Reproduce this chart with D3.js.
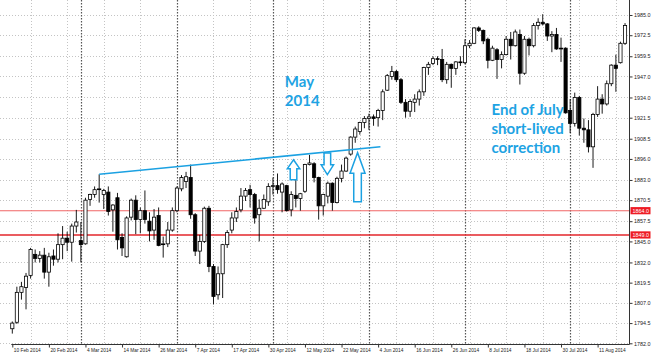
<!DOCTYPE html>
<html>
<head>
<meta charset="utf-8">
<script src="https://cdn.jsdelivr.net/npm/d3@7"></script>
<style>
  body { margin: 0; background: #fff; }
  .axis text { font-family: "Liberation Sans", Arial, sans-serif; fill: #222; }
  .note { font-family: Lato, "Open Sans", sans-serif; font-weight: 700; font-size: 15px; fill: #1ea3e3; }
</style>
</head>
<body>
<div id="chart"></div>
<script>
// daily bars, [open, high, low, close], one list per month (10 Feb .. 19 Aug 2014)
const febBars = [
  [1791,1795.5,1788,1794.5],[1795,1817,1794,1813.5],[1813.5,1820,1809,1817],[1816.5,1825.5,1803,1823.5],
  [1824,1841,1822,1840],[1837,1840,1832,1834.5],[1834.5,1839,1832,1836.5],[1836.5,1841,1822,1826],
  [1826,1838,1817,1835.5],[1836,1840,1830,1834],[1834,1850,1832,1843],[1843,1854.5,1834,1847],
  [1847,1851,1839,1844.5],[1844.5,1856,1832.5,1854.5],[1854.5,1864.5,1850.5,1857]
];
const marBars = [
  [1845.5,1857,1832,1843],[1843.5,1872,1843,1870.5],[1871,1874.5,1867,1874],[1874,1879,1872,1877],
  [1877,1886.5,1869,1877.5],[1874,1877.5,1865,1876.5],[1875.5,1879,1861,1863.5],[1864.5,1868,1851,1867.5],
  [1872,1875,1840,1846],[1847.5,1850,1836,1841],[1835.5,1860.5,1835,1859.5],[1860,1871.5,1858,1870.5],
  [1870.5,1873.5,1849.5,1858.5],[1858.5,1866,1850,1864],[1864,1876.5,1856,1858.5],[1857.5,1863,1845,1851.5],
  [1852,1865,1846,1860],[1861,1866,1842,1842.5],[1843,1848,1835,1843.5],[1843.5,1857,1841.5,1852],
  [1852,1866,1851,1864]
];
const aprBars = [
  [1864,1879,1863,1878],[1877.5,1886,1876,1884.5],[1882,1888,1878,1885],[1884.5,1892.5,1859,1861.5],
  [1861.5,1862.5,1836,1839],[1839,1849,1831,1845],[1845,1866.5,1844,1865.5],[1865.5,1867,1826,1829.5],
  [1829.5,1831,1806,1811],[1812,1829.5,1809,1825],[1825,1843.5,1810,1843],[1843,1852,1841,1850.5],
  [1852,1863,1850,1859.5],[1859.5,1866,1857,1863.5],[1864.5,1878,1863,1873],[1873,1878,1870,1876.5],
  [1877,1880,1866,1874],[1874,1875,1856,1859.5],[1861.5,1871,1845,1865.5],[1865.5,1874,1865,1871],
  [1869.5,1881,1867,1879]
];
const mayBars = [
  [1879,1884.5,1874,1879.5],[1879.5,1887,1874.5,1877],[1875.5,1881.5,1863,1880.5],[1879.5,1880,1863.5,1864],
  [1864.5,1876,1860.5,1874],[1873.5,1885,1866,1871.5],[1871.5,1875,1864,1874.5],[1876,1893,1875,1892.5],
  [1892.5,1898.5,1892,1893.5],[1893,1894,1881.5,1884.5],[1884.5,1885,1858.5,1867],[1867,1874.5,1861,1874],
  [1873,1882,1868.5,1881],[1881,1881.5,1864,1869],[1869,1885,1868.5,1884],[1884,1892.5,1881.5,1888.5],
  [1888.5,1897.5,1888,1896.5],[1899,1910,1898,1909.5],[1909.5,1916,1906,1914.5],[1913,1919,1911,1918.5],
  [1918.5,1922.5,1915,1921]
];
const junBars = [
  [1921,1924,1914,1922],[1922,1923.5,1916.5,1921],[1921.5,1927,1916,1926],[1926,1939,1920,1937.5],
  [1938.5,1948.5,1938,1947.5],[1947,1953.5,1945,1950],[1950,1951,1943.5,1945],[1945,1946,1930,1931],
  [1931,1933,1921.5,1925.5],[1925.5,1933,1922,1931.5],[1931,1936,1925,1933],[1933,1939,1929,1937.5],
  [1937.5,1953,1935,1952.5],[1952.5,1956,1948,1954.5],[1955,1959.5,1954,1958],[1958,1959.5,1954,1957.5],
  [1957.5,1964,1943.5,1945],[1945,1956,1942.5,1954.5],[1954.5,1955,1940,1952],[1952,1956.5,1948,1956],
  [1956,1959.5,1953.5,1955.5]
];
const julBars = [
  [1955.5,1970,1954.5,1966],[1966,1969.5,1964.5,1967.5],[1967.5,1977.5,1967,1977],[1977,1978,1974.5,1975.5],
  [1975.5,1976,1967,1969],[1970,1971,1952,1957],[1957,1966,1956.5,1964.5],[1963.5,1964.5,1945.5,1957.5],
  [1957.5,1962.5,1952,1960.5],[1960.5,1972,1960,1970],[1970,1974.5,1957.5,1966],[1966,1976,1965.5,1974.5],
  [1973,1976,1942,1949],[1949,1972,1948,1970],[1970,1971,1960,1966],[1966,1980,1965,1978.5],
  [1978.5,1983,1976,1980.5],[1980.5,1985.5,1978.5,1979.5],[1979.5,1980,1969,1972],[1972,1975,1962,1973],
  [1973,1977,1963.5,1964],[1964.5,1971,1956,1964],[1964.5,1965,1924,1924.5]
];
const augBars = [
  [1926,1933,1912,1918],[1918,1937,1916,1934],[1934,1935,1910.5,1915],[1915,1921,1906,1914],
  [1914,1920,1900,1903.5],[1903.5,1924.5,1890.5,1923.5],[1923.5,1941,1922,1933],[1933,1936,1924,1930],
  [1930,1944.5,1929,1942.5],[1942.5,1954.5,1941,1954],[1954,1960.5,1937.5,1952],[1955.5,1968.5,1955,1967.5],
  [1967.5,1980,1966.5,1978.5]
];

const xTickLabels = ["10 Feb 2014","20 Feb 2014","4 Mar 2014","14 Mar 2014","26 Mar 2014","7 Apr 2014",
  "17 Apr 2014","30 Apr 2014","12 May 2014","22 May 2014","4 Jun 2014","16 Jun 2014","26 Jun 2014",
  "8 Jul 2014","18 Jul 2014","30 Jul 2014","11 Aug 2014"];
const yTicks = [1985.0,1972.5,1959.5,1947.0,1934.0,1921.5,1908.5,1896.0,1883.0,1870.5,1857.5,1845.0,
  1832.0,1819.5,1807.0,1794.5,1782.0];
const monthStarts = [15, 36, 57, 78, 99, 122];   // first bar of Mar..Aug
const levels = [1864.0, 1849.0];
const trend = [[19, 1886.5], [80.5, 1903.5]];
// arrows: bar index, tip price, tail price
const arrows = [[61.5, 1895.5, 1883.2], [68.9, 1886.3, 1899.7], [75.5, 1899.9, 1869.6]];
const notes = [
  { idx: 59.6, price: 1940.4, lines: ["May", "2014"] },
  { idx: 104.8, price: 1923.3, lines: ["End of July", "short-lived", "correction"] }
];

const bars = [].concat(febBars, marBars, aprBars, mayBars, junBars, julBars, augBars);

const width = 660, height = 362;
const plotRight = 629.5, plotBottom = 344.5;

const svg = d3.select("#chart").append("svg")
  .attr("width", width).attr("height", height);

const x = d3.scaleLinear().domain([0, 128]).range([12.3, 597.6]);
const y = d3.scaleLinear().domain([1782, 1985]).range([343.3, 15]);

// grid
const grid = svg.append("g");
grid.selectAll(".hg").data(yTicks).join("line")
  .attr("x1", 0).attr("x2", plotRight)
  .attr("y1", d => Math.round(y(d)) + 0.5).attr("y2", d => Math.round(y(d)) + 0.5)
  .attr("stroke", "#c4c4c4").attr("stroke-dasharray", "1,2");
grid.selectAll(".vg").data(d3.range(4, bars.length, 8)).join("line")
  .attr("x1", d => Math.round(x(d)) + 0.5).attr("x2", d => Math.round(x(d)) + 0.5)
  .attr("y1", 0).attr("y2", plotBottom)
  .attr("stroke", "#c4c4c4").attr("stroke-dasharray", "1,2");
grid.selectAll(".sep").data(monthStarts).join("line")
  .attr("x1", d => Math.round(x(d)) + 0.5).attr("x2", d => Math.round(x(d)) + 0.5)
  .attr("y1", 0).attr("y2", plotBottom)
  .attr("stroke", "#555").attr("stroke-width", 1.2).attr("stroke-dasharray", "1.5,1.5");

// support levels
svg.selectAll(".lvl").data(levels).join("line")
  .attr("x1", 0).attr("x2", plotRight)
  .attr("y1", d => y(d)).attr("y2", d => y(d))
  .attr("stroke", (d, i) => i ? "#e3262b" : "#f06666")
  .attr("stroke-width", (d, i) => i ? 1.6 : 1.1);

// candles
const candle = svg.append("g").selectAll("g").data(bars).join("g");
candle.append("line")
  .attr("x1", (d, i) => x(i)).attr("x2", (d, i) => x(i))
  .attr("y1", d => y(d[1])).attr("y2", d => y(d[2]))
  .attr("stroke", "#000").attr("stroke-width", 0.9);
candle.append("rect")
  .attr("x", (d, i) => x(i) - 1.6).attr("width", 3.2)
  .attr("y", d => y(Math.max(d[0], d[3])))
  .attr("height", d => Math.max(0.8, Math.abs(y(d[0]) - y(d[3]))))
  .attr("fill", d => d[3] >= d[0] ? "#fff" : "#000")
  .attr("stroke", "#000").attr("stroke-width", 0.8);

// trend line
svg.append("line")
  .attr("x1", x(trend[0][0])).attr("y1", y(trend[0][1]))
  .attr("x2", x(trend[1][0])).attr("y2", y(trend[1][1]))
  .attr("stroke", "#1ba1e2").attr("stroke-width", 1.6);

// hollow arrows
arrows.forEach(([idx, tip, tail]) => {
  const cx = x(idx), yt = y(tip), yb = y(tail);
  const len = yb - yt, dir = Math.sign(len);
  const total = Math.abs(len);
  const head = total > 35 ? total * 0.42 : total * 0.45;
  const hw = total > 35 ? 7.5 : 6.2, sw = total > 35 ? 3.8 : 3.3;
  const yh = yt + dir * head;
  const pts = [[cx, yt], [cx + hw, yh], [cx + sw, yh], [cx + sw, yb], [cx - sw, yb], [cx - sw, yh], [cx - hw, yh]];
  svg.append("path")
    .attr("d", d3.line()(pts) + "Z")
    .attr("fill", "#fff").attr("stroke", "#1ba1e2").attr("stroke-width", 1.5)
    .attr("stroke-linejoin", "miter");
});

// axes
const yAxis = svg.append("g").attr("class", "axis")
  .attr("transform", `translate(${plotRight},0)`)
  .call(d3.axisRight(y).tickValues(yTicks).tickFormat(d3.format(".1f")).tickSize(3).tickPadding(1.5));
yAxis.select(".domain").remove();
yAxis.selectAll("text").attr("font-size", 5.4);
yAxis.selectAll("line").attr("stroke", "#333");

const xAxis = svg.append("g").attr("class", "axis")
  .attr("transform", `translate(0,${plotBottom})`)
  .call(d3.axisBottom(x).tickValues(d3.range(0, 129, 8))
    .tickFormat((d, i) => xTickLabels[i]).tickSize(3).tickPadding(1));
xAxis.select(".domain").remove();
xAxis.selectAll("text").attr("font-size", 4.8).attr("text-anchor", "start").attr("dx", 1);
xAxis.selectAll("line").attr("stroke", "#333");

svg.append("line").attr("x1", plotRight).attr("x2", plotRight).attr("y1", 0).attr("y2", plotBottom)
  .attr("stroke", "#333");
svg.append("line").attr("x1", x(0) - 1).attr("x2", plotRight).attr("y1", plotBottom).attr("y2", plotBottom)
  .attr("stroke", "#333");

// level price tags
const tag = svg.selectAll(".tag").data(levels).join("g")
  .attr("transform", d => `translate(${plotRight + 1},${y(d)})`);
tag.append("rect").attr("x", 0).attr("y", -3.6).attr("width", 20).attr("height", 7.2).attr("fill", "#ee1c24");
tag.append("text").attr("x", 2).attr("y", 2)
  .attr("font-family", "Liberation Sans, Arial, sans-serif").attr("font-size", 5.4).attr("fill", "#fff")
  .text(d => d3.format(".1f")(d));

// annotations
notes.forEach(n => {
  const t = svg.append("text").attr("class", "note")
    .attr("x", x(n.idx)).attr("y", y(n.price));
  n.lines.forEach((s, i) => t.append("tspan").attr("x", x(n.idx)).attr("dy", i ? 19 : 0).text(s));
});
</script>
</body>
</html>
